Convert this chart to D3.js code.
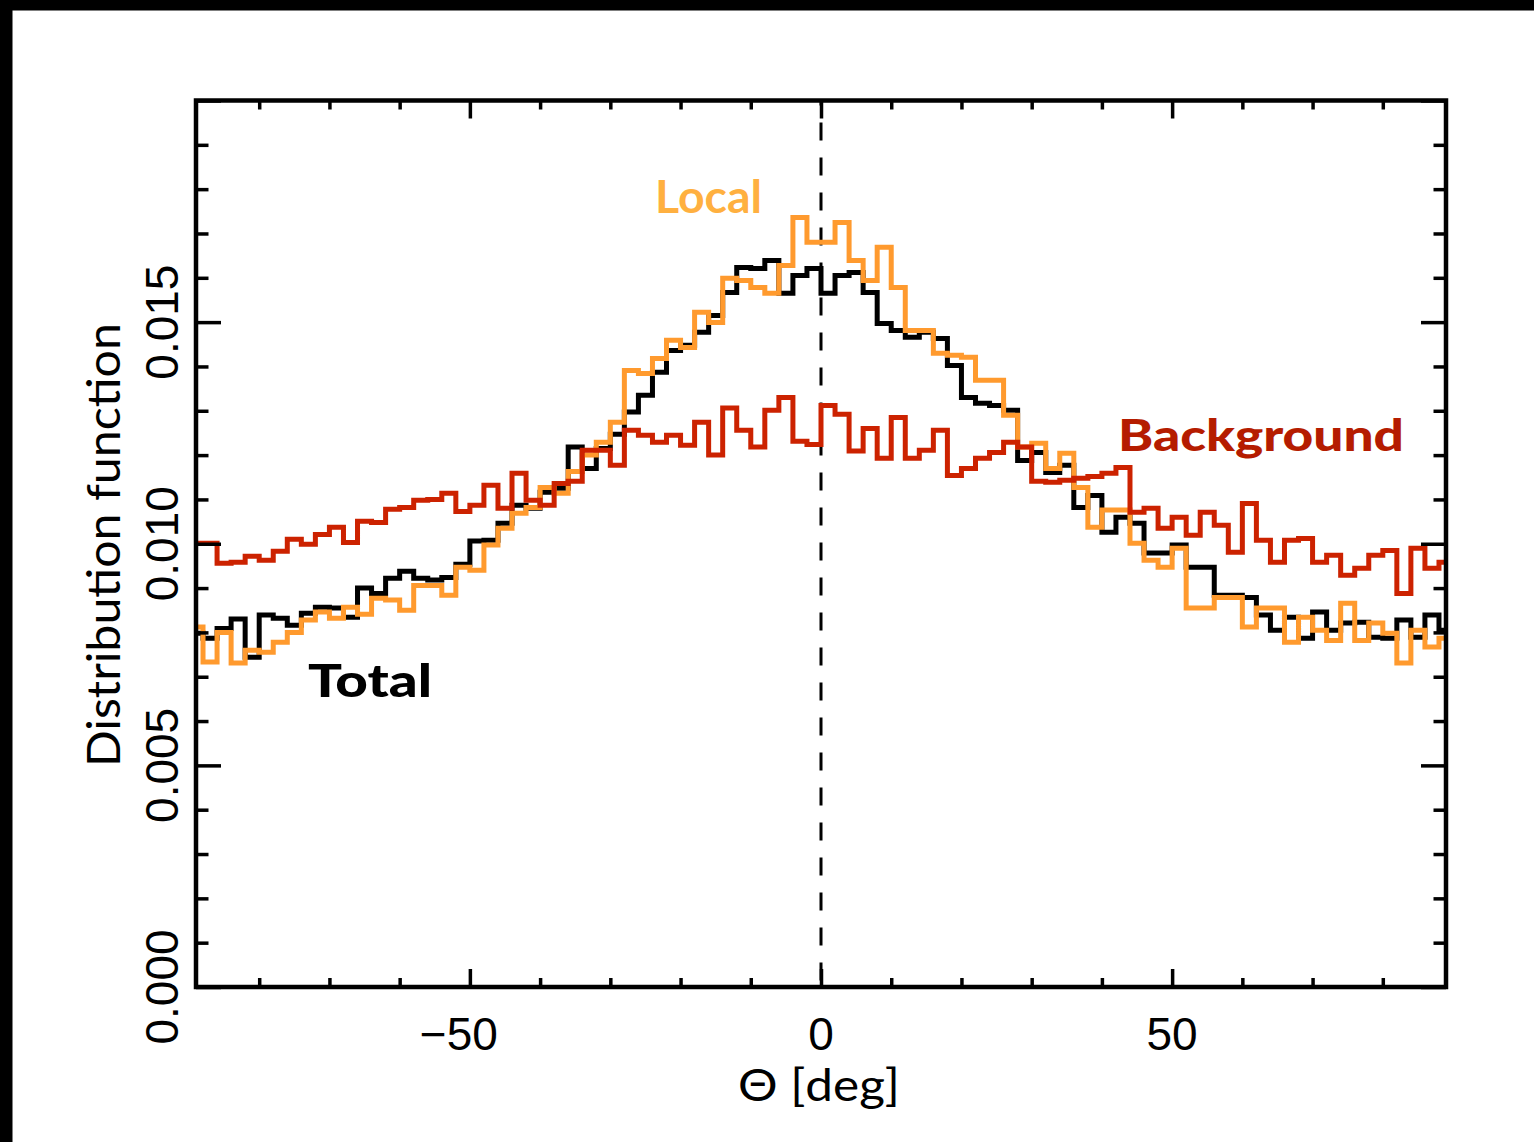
<!DOCTYPE html>
<html><head><meta charset="utf-8">
<script src="https://cdn.jsdelivr.net/npm/d3@7"></script>
<style>html,body{margin:0;padding:0;background:#fff;}svg{display:block}</style>
</head><body>
<svg id="chart" width="1534" height="1142"></svg>
<script>
// ---- data ----
const binCenters = [-89,-87,-85,-83,-81,-79,-77,-75,-73,-71,-69,-67,-65,-63,-61,-59,-57,-55,-53,-51,
  -49,-47,-45,-43,-41,-39,-37,-35,-33,-31,-29,-27,-25,-23,-21,-19,-17,-15,-13,-11,-9,-7,-5,-3,-1,
  1,3,5,7,9,11,13,15,17,19,21,23,25,27,29,31,33,35,37,39,41,43,45,47,49,
  51,53,55,57,59,61,63,65,67,69,71,73,75,77,79,81,83,85,87,89];

const totalValues = [0.00798,0.00787,0.00809,0.00830,0.00744,0.00839,0.00832,0.00816,0.00843,0.00857,
  0.00855,0.00834,0.00900,0.00888,0.00922,0.00938,0.00922,0.00918,0.00924,0.00954,
  0.01006,0.01008,0.01046,0.01087,0.01080,0.01116,0.01125,0.01218,0.01170,0.01215,
  0.01247,0.01297,0.01335,0.01387,0.01436,0.01448,0.01477,0.01515,0.01567,0.01623,
  0.01621,0.01639,0.01565,0.01605,0.01621,
  0.01565,0.01605,0.01612,0.01567,0.01497,0.01481,0.01466,0.01477,0.01463,0.01402,
  0.01330,0.01317,0.01312,0.01301,0.01188,0.01206,0.01161,0.01177,0.01082,0.01109,
  0.01026,0.01060,0.01046,0.00979,0.00979,0.00997,0.00947,0.00947,0.00884,0.00884,
  0.00879,0.00839,0.00805,0.00834,0.00787,0.00846,0.00805,0.00821,0.00823,0.00789,
  0.00787,0.00828,0.00789,0.00839,0.00805];

const localValues = [0.00812,0.00733,0.00800,0.00731,0.00760,0.00755,0.00778,0.00800,0.00828,0.00846,
  0.00832,0.00857,0.00841,0.00877,0.00873,0.00850,0.00906,0.00906,0.00884,0.00947,
  0.00940,0.00997,0.01035,0.01069,0.01082,0.01127,0.01114,0.01163,0.01200,0.01229,
  0.01274,0.01391,0.01384,0.01418,0.01459,0.01443,0.01522,0.01499,0.01599,0.01594,
  0.01578,0.01565,0.01628,0.01736,0.01680,
  0.01680,0.01725,0.01639,0.01594,0.01669,0.01578,0.01481,0.01481,0.01430,0.01425,
  0.01421,0.01369,0.01369,0.01290,0.01218,0.01227,0.01170,0.01204,0.01127,0.01037,
  0.01076,0.01076,0.01001,0.00963,0.00947,0.00990,0.00855,0.00855,0.00879,0.00879,
  0.00812,0.00855,0.00855,0.00778,0.00834,0.00805,0.00782,0.00866,0.00782,0.00821,
  0.00798,0.00731,0.00805,0.00767,0.00787];

const backgroundValues = [0.01001,0.01001,0.00956,0.00958,0.00972,0.00963,0.00983,0.01010,0.00999,0.01021,
  0.01037,0.01003,0.01051,0.01048,0.01078,0.01082,0.01098,0.01100,0.01114,0.01073,
  0.01087,0.01132,0.01080,0.01159,0.01098,0.01087,0.01136,0.01141,0.01211,0.01211,
  0.01177,0.01256,0.01245,0.01229,0.01245,0.01222,0.01274,0.01200,0.01306,0.01256,
  0.01218,0.01301,0.01330,0.01231,0.01224,
  0.01312,0.01292,0.01209,0.01260,0.01193,0.01285,0.01193,0.01211,0.01256,0.01154,
  0.01170,0.01193,0.01206,0.01229,0.01218,0.01141,0.01139,0.01143,0.01148,0.01152,
  0.01159,0.01172,0.01071,0.01080,0.01035,0.01060,0.01019,0.01071,0.01042,0.00981,
  0.01091,0.01008,0.00958,0.01008,0.01012,0.00958,0.00974,0.00929,0.00945,0.00974,
  0.00985,0.00888,0.00990,0.00945,0.00958];

const xMajorTicks = [-50, 0, 50];
const xMajorLabels = ["\u221250", "0", "50"];
const xMinorTicks = [-80,-70,-60,-40,-30,-20,-10,10,20,30,40,60,70,80];
const yMajorTicks = [0, 0.005, 0.010, 0.015, 0.020];
const yLabelTicks = [0, 0.005, 0.010, 0.015];
const yTickLabels = ["0.000", "0.005", "0.010", "0.015"];
const yMinorTicks = [0.001,0.002,0.003,0.004,0.006,0.007,0.008,0.009,0.011,0.012,0.013,0.014,0.016,0.017,0.018,0.019];

const seriesNames = ["Total", "Local", "Background"];
const seriesColors = ["#000000", "#FF9A2E", "#CC2200"];
const labelColors = ["#000000", "#FFB040", "#B51C00"];

// ---- layout ----
const L = 196, R = 1446, T = 100.5, B = 987;
const x = d3.scaleLinear().domain([-89, 89]).range([L, R]);
const y = d3.scaleLinear().domain([0, 0.02]).range([B, T]);

const svg = d3.select("#chart");
svg.append("rect").attr("x",0).attr("y",0).attr("width",1534).attr("height",1142).attr("fill","#fff");
svg.append("rect").attr("x",0).attr("y",0).attr("width",1534).attr("height",10.5).attr("fill","#000");
svg.append("rect").attr("x",0).attr("y",0).attr("width",12.5).attr("height",1142).attr("fill","#000");

svg.append("defs").append("clipPath").attr("id","plotclip")
  .append("rect").attr("x",L).attr("y",T).attr("width",R-L).attr("height",B-T);

// dashed zero line
svg.append("line")
  .attr("x1", x(0)).attr("x2", x(0)).attr("y1", T).attr("y2", B)
  .attr("stroke","#000").attr("stroke-width",3)
  .attr("stroke-dasharray","18,17").attr("stroke-dashoffset",13);

// step histograms
const binW = binCenters[1] - binCenters[0];
function stepPoints(vals){
  const pts = binCenters.map((c,i)=>[c - binW/2, vals[i]]);
  pts.push([binCenters[binCenters.length-1] + binW/2, vals[vals.length-1]]);
  return pts;
}
const line = d3.line().x(d=>x(d[0])).y(d=>y(d[1])).curve(d3.curveStepAfter);
const seriesData = [totalValues, localValues, backgroundValues];
const gLines = svg.append("g").attr("clip-path","url(#plotclip)");
seriesData.forEach((vals,k)=>{
  gLines.append("path")
    .attr("d", line(stepPoints(vals)))
    .attr("fill","none")
    .attr("stroke", seriesColors[k])
    .attr("stroke-width", 5)
    .attr("stroke-linejoin","miter");
});

// axes ticks (inward on all 4 sides)
const xMajLen = 18, xMinLen = 9, yMajLen = 25, yMinLen = 12.5;
function styleAxis(g){
  g.select(".domain").remove();
  g.selectAll(".tick line").attr("stroke","#000").attr("stroke-width",3.5);
  g.selectAll(".tick text").remove();
}
svg.append("g").attr("transform",`translate(0,${B})`)
  .call(d3.axisBottom(x).tickValues(xMajorTicks).tickSize(-xMajLen)).call(styleAxis);
svg.append("g").attr("transform",`translate(0,${B})`)
  .call(d3.axisBottom(x).tickValues(xMinorTicks).tickSize(-xMinLen)).call(styleAxis);
svg.append("g").attr("transform",`translate(0,${T})`)
  .call(d3.axisTop(x).tickValues(xMajorTicks).tickSize(-xMajLen)).call(styleAxis);
svg.append("g").attr("transform",`translate(0,${T})`)
  .call(d3.axisTop(x).tickValues(xMinorTicks).tickSize(-xMinLen)).call(styleAxis);
svg.append("g").attr("transform",`translate(${L},0)`)
  .call(d3.axisLeft(y).tickValues(yMajorTicks).tickSize(-yMajLen)).call(styleAxis);
svg.append("g").attr("transform",`translate(${L},0)`)
  .call(d3.axisLeft(y).tickValues(yMinorTicks).tickSize(-yMinLen)).call(styleAxis);
svg.append("g").attr("transform",`translate(${R},0)`)
  .call(d3.axisRight(y).tickValues(yMajorTicks).tickSize(-yMajLen)).call(styleAxis);
svg.append("g").attr("transform",`translate(${R},0)`)
  .call(d3.axisRight(y).tickValues(yMinorTicks).tickSize(-yMinLen)).call(styleAxis);

// frame
svg.append("rect").attr("x",L).attr("y",T).attr("width",R-L).attr("height",B-T)
  .attr("fill","none").attr("stroke","#000").attr("stroke-width",4.5);

// tick labels
const tickFont = "'Liberation Sans', Arial, sans-serif";
svg.append("g").selectAll("text").data(xMajorTicks).join("text")
  .attr("x", d=>x(d)).attr("y", 1050)
  .attr("dx", d=> d < 0 ? -11 : 0)
  .attr("text-anchor","middle")
  .attr("font-family", tickFont).attr("font-size", 46).attr("fill","#000")
  .text((d,i)=>xMajorLabels[i]);
svg.append("g").selectAll("text").data(yLabelTicks).join("text")
  .attr("transform", d=>`translate(178,${y(d)}) rotate(-90)`)
  .attr("text-anchor","middle")
  .attr("font-family", tickFont).attr("font-size", 46).attr("fill","#000")
  .text((d,i)=>yTickLabels[i]);

// axis titles
const titleFont = "Lato, 'Open Sans', sans-serif";
svg.append("text")
  .attr("x", 819).attr("y", 1101)
  .attr("text-anchor","middle")
  .attr("font-family", titleFont).attr("font-size", 44).attr("fill","#000")
  .attr("textLength", 162).attr("lengthAdjust","spacingAndGlyphs")
  .text("\u0398 [deg]");
svg.append("text")
  .attr("transform", `translate(120,545) rotate(-90)`)
  .attr("text-anchor","middle")
  .attr("font-family", titleFont).attr("font-size", 47).attr("fill","#000")
  .attr("textLength", 444).attr("lengthAdjust","spacingAndGlyphs")
  .text("Distribution function");

// series labels
const labelFont = "Lato, 'Open Sans', sans-serif";
const labelPos = [{x:308, y:697, w:124, fw:900, fs:45},
                  {x:655, y:213, w:107, fw:700, fs:45},
                  {x:1118, y:451, w:286, fw:900, fs:43}];
seriesNames.forEach((name,k)=>{
  const p = labelPos[k];
  svg.append("text")
    .attr("x", p.x).attr("y", p.y)
    .attr("font-family", labelFont).attr("font-weight", p.fw).attr("font-size", p.fs)
    .attr("fill", labelColors[k])
    .attr("textLength", p.w).attr("lengthAdjust","spacingAndGlyphs")
    .text(name);
});
</script>
</body></html>
